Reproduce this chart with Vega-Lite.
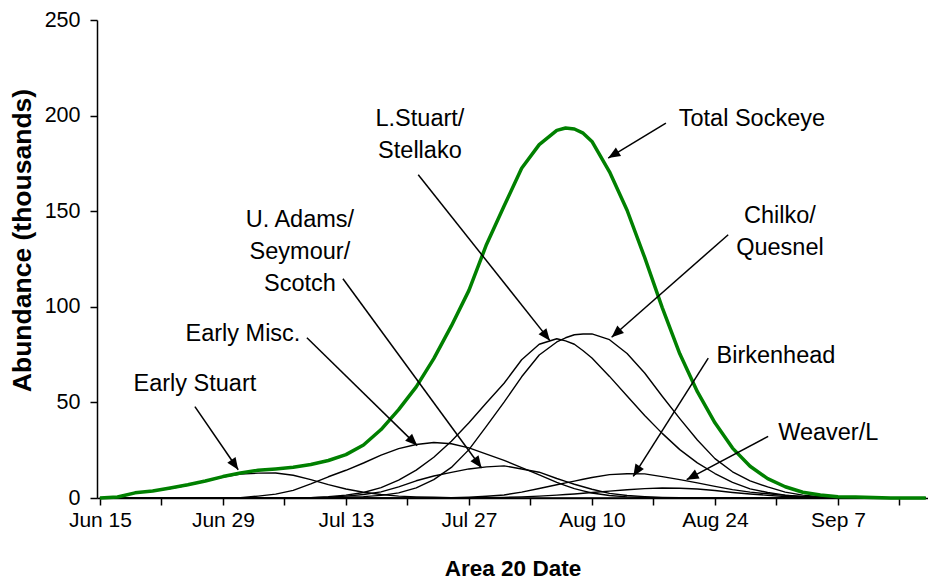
{
  "$schema": "https://vega.github.io/schema/vega-lite/v6.json",
  "width": 831,
  "height": 478,
  "autosize": {"type": "none"},
  "padding": {"left": 97, "top": 20, "right": 0, "bottom": 82},
  "background": "white",
  "config": {"view": {"stroke": null}, "font": "Liberation Sans"},
  "datasets": {
    "runs": [
      {"date": "2006-06-15", "Total": 0, "EarlyStuart": 0, "EarlyMisc": 0, "UAdams": 0, "LStuart": 0, "Chilko": 0, "Birkenhead": 0, "Weaver": 0},
      {"date": "2006-06-17", "Total": 0.5, "EarlyStuart": 0.5, "EarlyMisc": 0, "UAdams": 0, "LStuart": 0, "Chilko": 0, "Birkenhead": 0, "Weaver": 0},
      {"date": "2006-06-19", "Total": 2.7, "EarlyStuart": 2.6, "EarlyMisc": 0, "UAdams": 0, "LStuart": 0, "Chilko": 0, "Birkenhead": 0, "Weaver": 0},
      {"date": "2006-06-21", "Total": 3.7, "EarlyStuart": 3.6, "EarlyMisc": 0, "UAdams": 0, "LStuart": 0, "Chilko": 0, "Birkenhead": 0, "Weaver": 0},
      {"date": "2006-06-23", "Total": 5.2, "EarlyStuart": 5.0, "EarlyMisc": 0, "UAdams": 0, "LStuart": 0, "Chilko": 0, "Birkenhead": 0, "Weaver": 0},
      {"date": "2006-06-25", "Total": 6.9, "EarlyStuart": 6.7, "EarlyMisc": 0, "UAdams": 0, "LStuart": 0, "Chilko": 0, "Birkenhead": 0, "Weaver": 0},
      {"date": "2006-06-27", "Total": 8.9, "EarlyStuart": 8.7, "EarlyMisc": 0, "UAdams": 0, "LStuart": 0, "Chilko": 0, "Birkenhead": 0, "Weaver": 0},
      {"date": "2006-06-29", "Total": 11.2, "EarlyStuart": 10.9, "EarlyMisc": 0, "UAdams": 0, "LStuart": 0, "Chilko": 0, "Birkenhead": 0, "Weaver": 0},
      {"date": "2006-07-01", "Total": 13.1, "EarlyStuart": 12.5, "EarlyMisc": 0.2, "UAdams": 0, "LStuart": 0, "Chilko": 0, "Birkenhead": 0, "Weaver": 0},
      {"date": "2006-07-03", "Total": 14.5, "EarlyStuart": 13.0, "EarlyMisc": 1.0, "UAdams": 0, "LStuart": 0, "Chilko": 0, "Birkenhead": 0, "Weaver": 0},
      {"date": "2006-07-05", "Total": 15.2, "EarlyStuart": 13.1, "EarlyMisc": 2.0, "UAdams": 0, "LStuart": 0, "Chilko": 0, "Birkenhead": 0, "Weaver": 0},
      {"date": "2006-07-07", "Total": 16.1, "EarlyStuart": 11.9, "EarlyMisc": 4.0, "UAdams": 0, "LStuart": 0, "Chilko": 0, "Birkenhead": 0, "Weaver": 0},
      {"date": "2006-07-09", "Total": 17.5, "EarlyStuart": 9.6, "EarlyMisc": 7.4, "UAdams": 0.1, "LStuart": 0.2, "Chilko": 0, "Birkenhead": 0, "Weaver": 0},
      {"date": "2006-07-11", "Total": 19.6, "EarlyStuart": 7.0, "EarlyMisc": 11.1, "UAdams": 0.4, "LStuart": 0.7, "Chilko": 0.1, "Birkenhead": 0, "Weaver": 0},
      {"date": "2006-07-13", "Total": 22.7, "EarlyStuart": 4.7, "EarlyMisc": 14.5, "UAdams": 1.0, "LStuart": 1.5, "Chilko": 0.4, "Birkenhead": 0, "Weaver": 0},
      {"date": "2006-07-15", "Total": 27.7, "EarlyStuart": 3.0, "EarlyMisc": 18.3, "UAdams": 1.8, "LStuart": 2.9, "Chilko": 0.7, "Birkenhead": 0, "Weaver": 0},
      {"date": "2006-07-17", "Total": 35.8, "EarlyStuart": 1.8, "EarlyMisc": 22.4, "UAdams": 3.2, "LStuart": 5.4, "Chilko": 1.4, "Birkenhead": 0, "Weaver": 0},
      {"date": "2006-07-19", "Total": 46.2, "EarlyStuart": 1.0, "EarlyMisc": 25.8, "UAdams": 5.8, "LStuart": 9.3, "Chilko": 2.7, "Birkenhead": 0, "Weaver": 0},
      {"date": "2006-07-21", "Total": 58.1, "EarlyStuart": 0.6, "EarlyMisc": 28.0, "UAdams": 9.0, "LStuart": 14.6, "Chilko": 5.3, "Birkenhead": 0, "Weaver": 0},
      {"date": "2006-07-23", "Total": 72.9, "EarlyStuart": 0.4, "EarlyMisc": 29.0, "UAdams": 11.5, "LStuart": 21.3, "Chilko": 9.6, "Birkenhead": 0, "Weaver": 0},
      {"date": "2006-07-25", "Total": 90.0, "EarlyStuart": 0.2, "EarlyMisc": 28.4, "UAdams": 13.4, "LStuart": 29.7, "Chilko": 16.0, "Birkenhead": 0.1, "Weaver": 0},
      {"date": "2006-07-27", "Total": 108.6, "EarlyStuart": 0.1, "EarlyMisc": 26.2, "UAdams": 15.2, "LStuart": 39.4, "Chilko": 25.3, "Birkenhead": 0.4, "Weaver": 0.1},
      {"date": "2006-07-29", "Total": 132.6, "EarlyStuart": 0, "EarlyMisc": 22.9, "UAdams": 16.3, "LStuart": 49.8, "Chilko": 37.6, "Birkenhead": 0.9, "Weaver": 0.2},
      {"date": "2006-07-31", "Total": 152.7, "EarlyStuart": 0, "EarlyMisc": 19.7, "UAdams": 16.8, "LStuart": 60.0, "Chilko": 50.1, "Birkenhead": 1.6, "Weaver": 0.3},
      {"date": "2006-08-02", "Total": 172.5, "EarlyStuart": 0, "EarlyMisc": 15.9, "UAdams": 15.2, "LStuart": 72.3, "Chilko": 63.4, "Birkenhead": 3.1, "Weaver": 0.6},
      {"date": "2006-08-04", "Total": 184.8, "EarlyStuart": 0, "EarlyMisc": 12.1, "UAdams": 13.5, "LStuart": 80.4, "Chilko": 74.8, "Birkenhead": 5.0, "Weaver": 1.0},
      {"date": "2006-08-06", "Total": 192.3, "EarlyStuart": 0, "EarlyMisc": 8.2, "UAdams": 10.2, "LStuart": 83.3, "Chilko": 81.6, "Birkenhead": 6.9, "Weaver": 1.5},
      {"date": "2006-08-07", "Total": 193.5, "EarlyStuart": 0, "EarlyMisc": 6.5, "UAdams": 8.7, "LStuart": 82.2, "Chilko": 83.8, "Birkenhead": 7.9, "Weaver": 1.8},
      {"date": "2006-08-08", "Total": 193.0, "EarlyStuart": 0, "EarlyMisc": 4.9, "UAdams": 7.2, "LStuart": 80.4, "Chilko": 85.4, "Birkenhead": 8.8, "Weaver": 2.1},
      {"date": "2006-08-09", "Total": 190.8, "EarlyStuart": 0, "EarlyMisc": 3.7, "UAdams": 5.9, "LStuart": 77.0, "Chilko": 85.8, "Birkenhead": 9.8, "Weaver": 2.5},
      {"date": "2006-08-10", "Total": 186.5, "EarlyStuart": 0, "EarlyMisc": 2.6, "UAdams": 4.6, "LStuart": 73.2, "Chilko": 85.8, "Birkenhead": 10.7, "Weaver": 2.9},
      {"date": "2006-08-12", "Total": 170.6, "EarlyStuart": 0, "EarlyMisc": 1.3, "UAdams": 2.4, "LStuart": 63.6, "Chilko": 82.8, "Birkenhead": 12.2, "Weaver": 3.6},
      {"date": "2006-08-14", "Total": 150.5, "EarlyStuart": 0, "EarlyMisc": 0.6, "UAdams": 1.3, "LStuart": 53.3, "Chilko": 75.6, "Birkenhead": 12.7, "Weaver": 4.3},
      {"date": "2006-08-16", "Total": 125.8, "EarlyStuart": 0, "EarlyMisc": 0.3, "UAdams": 0.7, "LStuart": 43.1, "Chilko": 65.4, "Birkenhead": 12.6, "Weaver": 4.9},
      {"date": "2006-08-18", "Total": 99.6, "EarlyStuart": 0, "EarlyMisc": 0.1, "UAdams": 0.3, "LStuart": 33.8, "Chilko": 53.2, "Birkenhead": 11.2, "Weaver": 5.2},
      {"date": "2006-08-20", "Total": 75.4, "EarlyStuart": 0, "EarlyMisc": 0, "UAdams": 0.1, "LStuart": 25.3, "Chilko": 41.5, "Birkenhead": 9.6, "Weaver": 5.1},
      {"date": "2006-08-22", "Total": 55.6, "EarlyStuart": 0, "EarlyMisc": 0, "UAdams": 0, "LStuart": 18.4, "Chilko": 30.3, "Birkenhead": 7.9, "Weaver": 4.7},
      {"date": "2006-08-24", "Total": 39.3, "EarlyStuart": 0, "EarlyMisc": 0, "UAdams": 0, "LStuart": 12.8, "Chilko": 20.6, "Birkenhead": 6.1, "Weaver": 3.9},
      {"date": "2006-08-26", "Total": 26.1, "EarlyStuart": 0, "EarlyMisc": 0, "UAdams": 0, "LStuart": 8.2, "Chilko": 13.7, "Birkenhead": 4.4, "Weaver": 2.9},
      {"date": "2006-08-28", "Total": 16.6, "EarlyStuart": 0, "EarlyMisc": 0, "UAdams": 0, "LStuart": 4.8, "Chilko": 9.0, "Birkenhead": 3.1, "Weaver": 2.1},
      {"date": "2006-08-30", "Total": 10.1, "EarlyStuart": 0, "EarlyMisc": 0, "UAdams": 0, "LStuart": 2.9, "Chilko": 5.8, "Birkenhead": 2.2, "Weaver": 1.4},
      {"date": "2006-09-01", "Total": 5.9, "EarlyStuart": 0, "EarlyMisc": 0, "UAdams": 0, "LStuart": 1.5, "Chilko": 3.1, "Birkenhead": 1.4, "Weaver": 0.8},
      {"date": "2006-09-03", "Total": 3.0, "EarlyStuart": 0, "EarlyMisc": 0, "UAdams": 0, "LStuart": 0.7, "Chilko": 1.5, "Birkenhead": 0.8, "Weaver": 0.4},
      {"date": "2006-09-05", "Total": 1.6, "EarlyStuart": 0, "EarlyMisc": 0, "UAdams": 0, "LStuart": 0.3, "Chilko": 0.7, "Birkenhead": 0.4, "Weaver": 0.2},
      {"date": "2006-09-07", "Total": 0.7, "EarlyStuart": 0, "EarlyMisc": 0, "UAdams": 0, "LStuart": 0.1, "Chilko": 0.3, "Birkenhead": 0.2, "Weaver": 0.1},
      {"date": "2006-09-09", "Total": 0.5, "EarlyStuart": 0, "EarlyMisc": 0, "UAdams": 0, "LStuart": 0, "Chilko": 0.1, "Birkenhead": 0, "Weaver": 0},
      {"date": "2006-09-11", "Total": 0.2, "EarlyStuart": 0, "EarlyMisc": 0, "UAdams": 0, "LStuart": 0, "Chilko": 0, "Birkenhead": 0, "Weaver": 0},
      {"date": "2006-09-13", "Total": 0, "EarlyStuart": 0, "EarlyMisc": 0, "UAdams": 0, "LStuart": 0, "Chilko": 0, "Birkenhead": 0, "Weaver": 0},
      {"date": "2006-09-15", "Total": 0, "EarlyStuart": 0, "EarlyMisc": 0, "UAdams": 0, "LStuart": 0, "Chilko": 0, "Birkenhead": 0, "Weaver": 0},
      {"date": "2006-09-17", "Total": 0, "EarlyStuart": 0, "EarlyMisc": 0, "UAdams": 0, "LStuart": 0, "Chilko": 0, "Birkenhead": 0, "Weaver": 0}
    ],
    "arrows": [
      {"stock": "Early Stuart", "tailDate": "2006-06-25T19:26:00Z", "tailValue": 47.8, "tipDate": "2006-06-30T17:46:00Z", "tipValue": 14.8},
      {"stock": "Early Misc.", "tailDate": "2006-07-08T13:26:00Z", "tailValue": 83.8, "tipDate": "2006-07-21T02:38:00Z", "tipValue": 27.4},
      {"stock": "U. Adams", "tailDate": "2006-07-12T15:50:00Z", "tailValue": 114.7, "tipDate": "2006-07-28T10:34:00Z", "tipValue": 15.7},
      {"stock": "L.Stuart", "tailDate": "2006-07-21T05:31:00Z", "tailValue": 169.1, "tipDate": "2006-08-05T05:17:00Z", "tipValue": 82.3},
      {"stock": "Total", "tailDate": "2006-08-18T10:05:00Z", "tailValue": 196.1, "tipDate": "2006-08-11T20:24:00Z", "tipValue": 177.8},
      {"stock": "Chilko", "tailDate": "2006-08-25T12:14:00Z", "tailValue": 137.7, "tipDate": "2006-08-12T05:46:00Z", "tipValue": 84.1},
      {"stock": "Birkenhead", "tailDate": "2006-08-23T05:46:00Z", "tailValue": 73.2, "tipDate": "2006-08-14T16:48:00Z", "tipValue": 11.3},
      {"stock": "Weaver", "tailDate": "2006-08-30T01:26:00Z", "tailValue": 32.2, "tipDate": "2006-08-20T18:43:00Z", "tipValue": 9.6}
    ],
    "labels": [
      {"label": "Early Stuart", "date": "2006-06-25T19:26:00Z", "value": 55.9},
      {"label": "Early Misc.", "date": "2006-07-01T06:40:00Z", "value": 82.3},
      {"label": "U. Adams/\nSeymour/\nScotch", "date": "2006-07-07T18:15:00Z", "value": 141.9},
      {"label": "L.Stuart/\nStellako", "date": "2006-07-21T10:05:00Z", "value": 194.7},
      {"label": "Total Sockeye", "date": "2006-08-28T05:00:00Z", "value": 194.3},
      {"label": "Chilko/\nQuesnel", "date": "2006-08-31T09:36:00Z", "value": 143.8},
      {"label": "Birkenhead", "date": "2006-08-30T22:34:00Z", "value": 70.6},
      {"label": "Weaver/L", "date": "2006-09-05T21:22:00Z", "value": 30.5}
    ]
  },
  "layer": [
    {
      "data": {"name": "runs"},
      "transform": [{"fold": ["EarlyStuart", "EarlyMisc", "UAdams", "LStuart", "Chilko", "Birkenhead", "Weaver"], "as": ["stock", "abundance"]}],
      "mark": {"type": "line", "color": "black", "strokeWidth": 1.4, "strokeJoin": "round"},
      "encoding": {
        "x": {
          "field": "date", "type": "temporal", "title": "Area 20 Date",
          "scale": {"type": "utc", "domain": [{"year": 2006, "month": 6, "date": 14, "hours": 16, "utc": true}, {"year": 2006, "month": 9, "date": 17, "hours": 6, "utc": true}]},
          "axis": {
            "values": [
              {"year": 2006, "month": 6, "date": 15, "utc": true},
              {"year": 2006, "month": 6, "date": 22, "utc": true},
              {"year": 2006, "month": 6, "date": 29, "utc": true},
              {"year": 2006, "month": 7, "date": 6, "utc": true},
              {"year": 2006, "month": 7, "date": 13, "utc": true},
              {"year": 2006, "month": 7, "date": 20, "utc": true},
              {"year": 2006, "month": 7, "date": 27, "utc": true},
              {"year": 2006, "month": 8, "date": 3, "utc": true},
              {"year": 2006, "month": 8, "date": 10, "utc": true},
              {"year": 2006, "month": 8, "date": 17, "utc": true},
              {"year": 2006, "month": 8, "date": 24, "utc": true},
              {"year": 2006, "month": 8, "date": 31, "utc": true},
              {"year": 2006, "month": 9, "date": 7, "utc": true},
              {"year": 2006, "month": 9, "date": 14, "utc": true}
            ],
            "labelExpr": "(round((datum.value - utc(2006, 5, 15)) / 86400000) % 14 == 0) ? utcFormat(datum.value, '%b %-d') : ''",
            "grid": false,
            "domainColor": "black", "domainWidth": 1.5,
            "tickColor": "black", "tickWidth": 1.5, "tickSize": 7,
            "labelFont": "Liberation Sans", "labelFontSize": 21, "labelColor": "black", "labelPadding": 4,
            "labelOverlap": false, "labelFlush": false,
            "titleFont": "Liberation Sans", "titleFontSize": 22.5, "titleFontWeight": "bold", "titleColor": "black",
            "titleBaseline": "alphabetic", "titleY": 77
          }
        },
        "y": {
          "field": "abundance", "type": "quantitative", "title": "Abundance (thousands)",
          "scale": {"domain": [0, 250], "nice": false},
          "axis": {
            "values": [0, 50, 100, 150, 200, 250],
            "grid": false,
            "domainColor": "black", "domainWidth": 1.5,
            "tickColor": "black", "tickWidth": 1.5, "tickSize": 7,
            "labelFont": "Liberation Sans", "labelFontSize": 21.5, "labelColor": "black", "labelPadding": 10,
            "titleFont": "Liberation Sans", "titleFontSize": 26.5, "titleFontWeight": "bold", "titleColor": "black",
            "titleAngle": -90, "titleAlign": "center", "titleBaseline": "middle", "titleX": -75, "titleY": 220
          }
        },
        "detail": {"field": "stock"}
      }
    },
    {
      "data": {"name": "runs"},
      "mark": {"type": "line", "color": "#008000", "strokeWidth": 3.5, "strokeJoin": "round"},
      "encoding": {
        "x": {"field": "date", "type": "temporal", "title": "Area 20 Date"},
        "y": {"field": "Total", "type": "quantitative", "title": "Abundance (thousands)"}
      }
    },
    {
      "data": {"name": "arrows"},
      "mark": {"type": "rule", "color": "black", "strokeWidth": 1.5},
      "encoding": {
        "x": {"field": "tailDate", "type": "temporal", "title": "Area 20 Date"},
        "y": {"field": "tailValue", "type": "quantitative", "title": "Abundance (thousands)"},
        "x2": {"field": "tipDate"},
        "y2": {"field": "tipValue"}
      }
    },
    {
      "data": {"name": "arrows"},
      "transform": [{"calculate": "atan2((toDate(datum.tipDate) - toDate(datum.tailDate)) / 86400000 * 8.786, (datum.tipValue - datum.tailValue) * 1.912) * 180 / PI", "as": "heading"}],
      "mark": {"type": "point", "shape": "M0,0L0.5,1.2L-0.5,1.2Z", "filled": true, "color": "black", "opacity": 1, "size": 400, "strokeWidth": 0},
      "encoding": {
        "x": {"field": "tipDate", "type": "temporal", "title": "Area 20 Date"},
        "y": {"field": "tipValue", "type": "quantitative", "title": "Abundance (thousands)"},
        "angle": {"field": "heading", "type": "quantitative", "scale": null}
      }
    },
    {
      "data": {"name": "labels"},
      "mark": {"type": "text", "font": "Liberation Sans", "fontSize": 23.5, "color": "black", "align": "center", "baseline": "alphabetic", "lineBreak": "\n", "lineHeight": 32},
      "encoding": {
        "x": {"field": "date", "type": "temporal", "title": "Area 20 Date"},
        "y": {"field": "value", "type": "quantitative", "title": "Abundance (thousands)"},
        "text": {"field": "label"}
      }
    }
  ]
}
